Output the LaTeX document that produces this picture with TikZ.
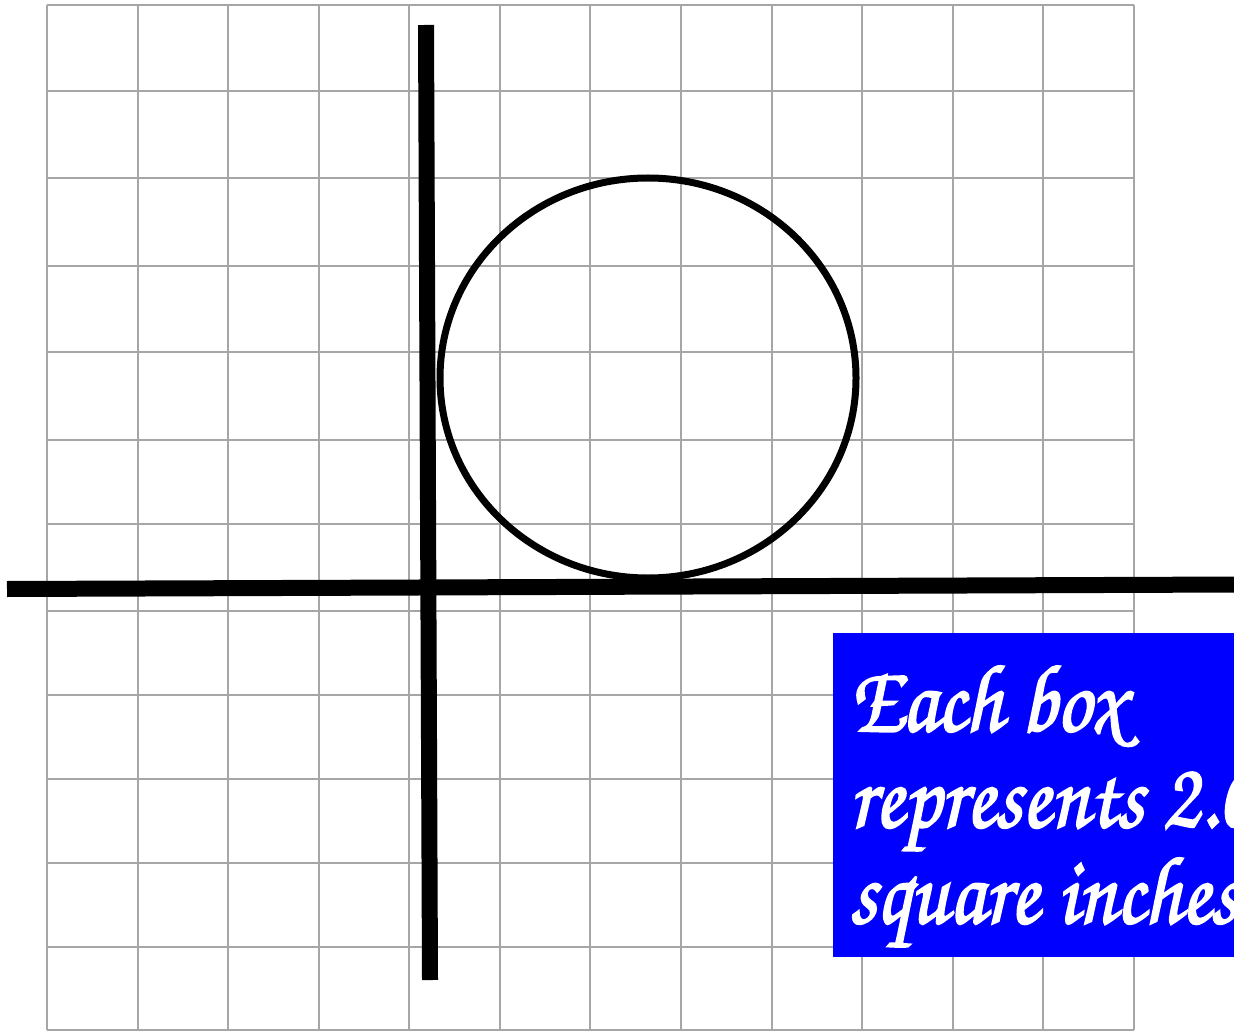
\documentclass[tikz,border=0pt]{standalone}
\usepackage{fontspec}
\newfontfamily\notefont[FakeStretch=0.88, FakeBold=2]{texgyrechorus-mediumitalic.otf}

\begin{document}
\begin{tikzpicture}[x=0.5pt, y=-0.5pt, gridline/.style={gray!70, line width=1pt}, axis/.style={black, line width=8pt}, note/.style={font=\notefont\fontsize{48pt}{48pt}\selectfont, text=white, align=left, inner sep=0pt}]
	\useasboundingbox (0,0) rectangle (1234,1031);
	% grid
	\foreach \i in {0,...,12} {\draw[gridline] ({47+90.58*\i},5) -- ({47+90.58*\i},1030);}
	\foreach \y in {5,91,178,266,352,440,524,611,695,779,863,947,1030} {\draw[gridline] (47,\y) -- (1134,\y);}
	% axes
	\coordinate (xl) at (7,589);
	\coordinate (xr) at (1240,584.5);
	\coordinate (yt) at (426,25);
	\coordinate (yb) at (430,980);
	\draw[axis] (xl) -- (xr);
	\draw[axis] (yt) -- (yb);
	\draw[line width=3.5pt] (648,378) ellipse [x radius=208, y radius=200];
	% label box
	\fill[blue] (833,633) rectangle (1240,957);
	\node[note, anchor=base west] (note) at (849,923) {Each box\\represents 2.0\\square inches};
\end{tikzpicture}
\end{document}
